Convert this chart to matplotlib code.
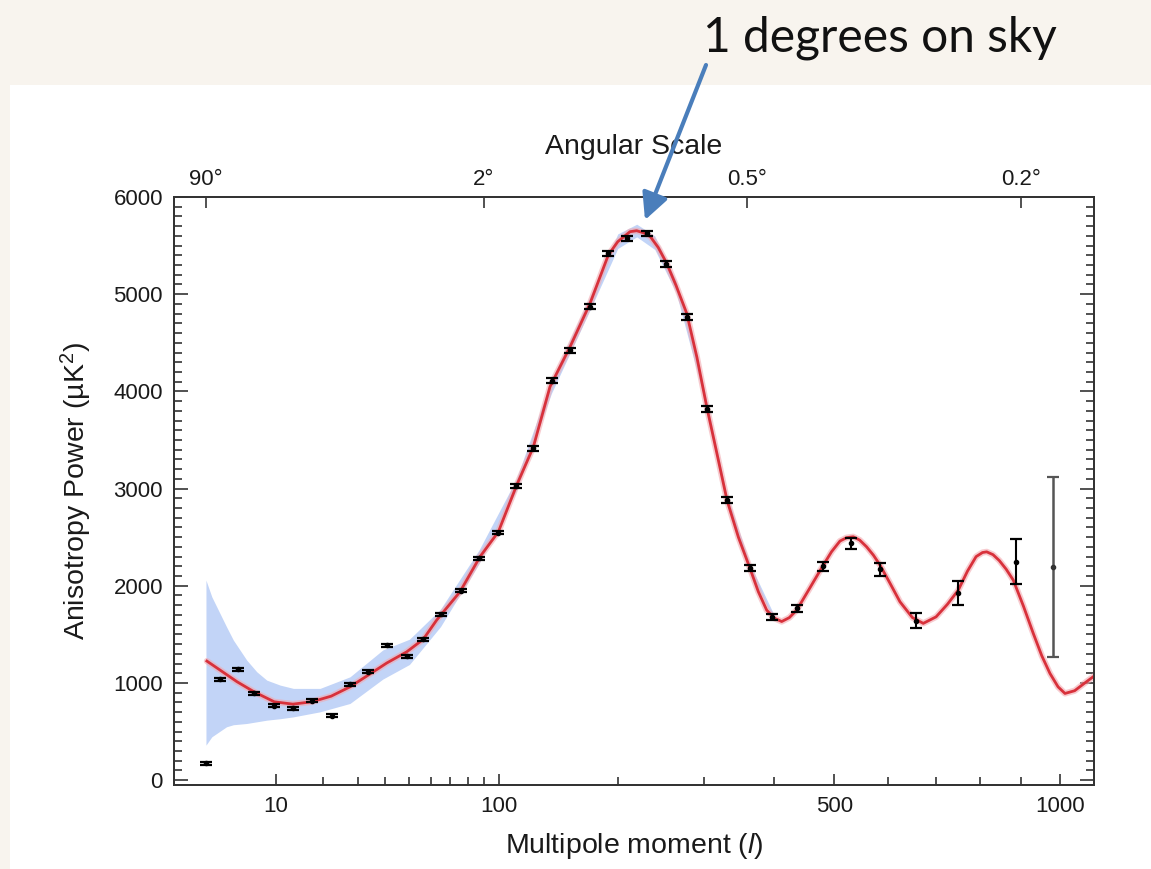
import numpy as np
import matplotlib
matplotlib.use('Agg')
import matplotlib.pyplot as plt
from matplotlib.patches import Rectangle, FancyArrowPatch
from matplotlib.ticker import FixedLocator, MultipleLocator, NullFormatter, FixedFormatter, NullLocator

plt.rcParams['font.family'] = ['Liberation Sans', 'DejaVu Sans']
plt.rcParams['mathtext.fontset'] = 'custom'
plt.rcParams['mathtext.rm'] = 'Liberation Sans'
plt.rcParams['mathtext.it'] = 'Liberation Sans:italic'

# ---------------- data ----------------
ell = [2, 3, 4.7, 6.7, 9.7, 13.2, 17.3, 22.3, 27.6, 33.7, 40.5, 48.8, 56.4, 65.3,
       76.2, 87.1, 99.0, 111.5, 124.6, 139.2, 154.8, 172.9, 190.5, 209.3, 230.9,
       253.0, 278.8, 303.7, 331.0, 363.7, 396.3, 436.0, 479.6, 529.4, 585.7,
       657.3, 749.1, 886.2, 980.6]
power = [172, 1036, 1139, 892, 765, 741, 816, 662, 988, 1114, 1389, 1276, 1448, 1705,
         1948, 2281, 2545, 3026, 3414, 4109, 4425, 4871, 5420, 5575, 5626,
         5307, 4768, 3815, 2882, 2179, 1681, 1767, 2202, 2436, 2170,
         1640, 1921, 2247, 2195]
err = [15, 15, 15, 15, 15, 15, 15, 15, 15, 15, 15, 15, 15, 15,
       15, 15, 15, 25, 25, 25, 25, 25, 25, 25, 25,
       30, 30, 30, 30, 30, 30, 35, 45, 55, 65,
       77, 123, 230, 926]

model_l = [2.06, 3.04, 4.65, 6.68, 9.7, 13.1, 17.2, 22.1, 27.6, 33.6, 40.5, 48.8, 56.4,
           63.0, 75.6, 87.5, 99.4, 112.2, 124.6, 137.8, 154.8, 172.9, 190.5, 200,
           212.8, 219.9, 228, 235.1, 244, 253.9, 265, 278.1, 291, 303.7, 317, 331,
           347, 363.7, 376, 388.6, 400, 411.9, 424, 436, 458, 479.6, 495, 510, 522,
           534.2, 546, 559, 572, 584.8, 604, 624.4, 650, 672.6, 700, 725, 749.1, 770,
           790, 805, 814.9, 830, 845, 862, 879.5, 905, 930, 952, 973.5, 995, 1013.6,
           1040, 1063.9, 1094]
model_v = [1225, 1132, 1012, 909, 806, 782, 806, 864, 960, 1080, 1205, 1320, 1450,
           1647, 1938, 2298, 2555, 3036, 3428, 4048, 4459, 4906, 5403, 5540,
           5643, 5653, 5630, 5591, 5480, 5317, 5090, 4803, 4350, 3842, 3370, 2882,
           2500, 2179, 1940, 1750, 1668, 1632, 1672, 1750, 1980, 2202, 2350, 2460, 2495,
           2504, 2470, 2401, 2315, 2213, 2030, 1835, 1672, 1613, 1680, 1810, 1955, 2150,
           2300, 2342, 2349, 2320, 2260, 2170, 2058, 1790, 1510, 1280, 1098, 960, 892,
           920, 988, 1070]

band_l = [2.0, 2.4, 3.6, 4.26, 5.75, 7.05, 8.5, 10.7, 13.2, 19.2, 27.6, 39, 50, 65, 87,
          112, 139, 173, 200, 220, 240, 265, 300, 330, 364, 400]
band_lo = [360, 446, 549, 570, 583, 600, 617, 632, 651, 703, 789, 1040, 1190, 1580, 2230,
           2980, 3980, 4840, 5470, 5590, 5460, 5020, 3940, 2880, 2140, 1640]
band_hi = [2058, 1886, 1578, 1441, 1235, 1115, 1029, 978, 944, 944, 1063, 1340, 1450, 1760,
           2370, 3100, 4120, 4980, 5620, 5720, 5600, 5140, 4040, 2960, 2220, 1700]

bottom_major = [10, 100, 500, 1000]
bottom_major_labels = ['10', '100', '500', '1000']
bottom_minor = [20, 30, 40, 50, 60, 70, 80, 90, 200, 300, 400, 600, 700, 800, 900]
top_ticks_l = [2, 90, 360, 900]
top_labels = ['90°', '2°', '0.5°', '0.2°']

# ---------------- figure ----------------
W, H = 1151, 869
fig = plt.figure(figsize=(W / 100, H / 100), dpi=100, facecolor='#f8f4ee')
fig.add_artist(Rectangle((10 / W, 0), 1 - 10 / W, (H - 85) / H, transform=fig.transFigure,
                         facecolor='white', edgecolor='none', zorder=0))

ax = fig.add_axes([174 / W, 1 - 785 / H, (1094 - 174) / W, (785 - 197) / H])
ax.set_facecolor('white')

P = 0.4
def fwd(x):
    x = np.asarray(x, dtype=float)
    return np.sign(x) * np.abs(x) ** P

def inv(y):
    y = np.asarray(y, dtype=float)
    return np.sign(y) * np.abs(y) ** (1 / P)

ax.set_xscale('function', functions=(fwd, inv))
XLIM = (0.53, 1094)
ax.set_xlim(*XLIM)
ax.set_ylim(-50, 6000)

ax.fill_between(band_l, band_lo, band_hi, color='#c2d4f7', lw=0, zorder=1)
ax.plot(model_l, model_v, color='#f2a9b0', lw=4.5, alpha=0.6, zorder=2,
        solid_capstyle='round', solid_joinstyle='round')
ax.plot(model_l, model_v, color='#d8313b', lw=2.0, zorder=3, solid_joinstyle='round')

ax.errorbar(ell[:-1], power[:-1], yerr=err[:-1], fmt='o', ms=3, color='black',
            ecolor='black', elinewidth=1.5, capsize=4.5, capthick=1.6, zorder=4)
ax.errorbar(ell[-1:], power[-1:], yerr=err[-1:], fmt='o', ms=3, color='#333333',
            ecolor='#555555', elinewidth=1.8, capsize=4.5, capthick=1.6, zorder=4)

ax.xaxis.set_major_locator(FixedLocator(bottom_major))
ax.xaxis.set_major_formatter(FixedFormatter(bottom_major_labels))
ax.xaxis.set_minor_locator(FixedLocator(bottom_minor))
ax.xaxis.set_minor_formatter(NullFormatter())
ax.yaxis.set_major_locator(MultipleLocator(1000))
ax.yaxis.set_minor_locator(MultipleLocator(100))

ax.tick_params(axis='both', which='both', direction='in', top=False, right=True,
               labelsize=16, width=1.2, color='#333333', labelcolor='#1a1a1a')
ax.tick_params(axis='y', which='major', length=10, pad=8)
ax.tick_params(axis='y', which='minor', length=5.5)
ax.tick_params(axis='x', which='major', length=8, pad=8)
ax.tick_params(axis='x', which='minor', length=6)

for s in ax.spines.values():
    s.set_linewidth(1.3)
    s.set_color('#333333')

ax.set_xlabel('Multipole moment ($\\mathit{l}$)', fontsize=20.5, labelpad=10, color='#1a1a1a')
ax.set_ylabel('Anisotropy Power (µK$^2$)', fontsize=20.5, labelpad=14, color='#1a1a1a')

ax2 = ax.twiny()
ax2.set_xscale('function', functions=(fwd, inv))
ax2.set_xlim(*XLIM)
ax2.xaxis.set_major_locator(FixedLocator(top_ticks_l))
ax2.xaxis.set_major_formatter(FixedFormatter(top_labels))
ax2.xaxis.set_minor_locator(NullLocator())
ax2.tick_params(axis='x', direction='in', length=8, width=1.2, labelsize=16, pad=5,
                color='#333333', labelcolor='#1a1a1a')
ax2.set_xlabel('Angular Scale', fontsize=20.5, labelpad=11, color='#1a1a1a')
for s in ax2.spines.values():
    s.set_linewidth(1.3)
    s.set_color('#333333')

fig.text(880 / W, 1 - 52 / H, '1 degrees on sky', fontsize=34.5, family=['Lato', 'DejaVu Sans'],
         ha='center', va='baseline', color='#111111')

arrow = FancyArrowPatch((706 / W, 1 - 65 / H), (645 / W, 1 - 220 / H), transform=fig.transFigure,
                        arrowstyle='-|>,head_length=1.0,head_width=0.5', mutation_scale=16,
                        color='#4a7ebb', lw=3, shrinkA=0, shrinkB=0, zorder=10)
fig.add_artist(arrow)

fig.savefig('out.png', dpi=100, facecolor=fig.get_facecolor())
